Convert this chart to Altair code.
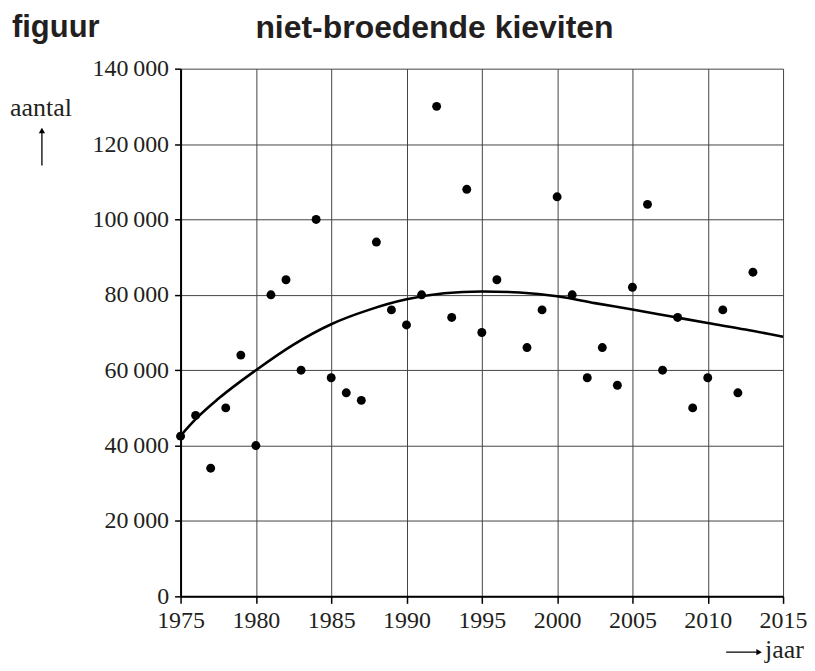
import altair as alt
import pandas as pd

# Observed counts of non-breeding lapwings
years = [1975, 1976, 1977, 1978, 1979, 1980, 1981, 1982, 1983, 1984, 1985, 1986, 1987,
         1988, 1989, 1990, 1991, 1992, 1993, 1994, 1995, 1996, 1998, 1999, 2000, 2001,
         2002, 2003, 2004, 2005, 2006, 2007, 2008, 2009, 2010, 2011, 2012, 2013]
counts = [42500, 48000, 34000, 50000, 64000, 40000, 80000, 84000, 60000, 100000, 58000,
          54000, 52000, 94000, 76000, 72000, 80000, 130000, 74000, 108000, 70000, 84000,
          66000, 76000, 106000, 80000, 58000, 66000, 56000, 82000, 104000, 60000, 74000,
          50000, 58000, 76000, 54000, 86000]

# Trend curve
curve_years = [1975, 1976, 1977.5, 1980, 1982.5, 1985, 1987.5, 1990, 1992.5, 1995,
               1997.5, 2000, 2002.5, 2005, 2007.5, 2010, 2012.5, 2015]
curve_vals = [42600, 47000, 52400, 60000, 66800, 72200, 76000, 78800, 80400, 80900,
              80600, 79600, 77800, 76100, 74300, 72500, 70800, 68900]

x_ticks = [1975, 1980, 1985, 1990, 1995, 2000, 2005, 2010, 2015]
y_ticks = [0, 20000, 40000, 60000, 80000, 100000, 120000, 140000]

pts = pd.DataFrame({"jaar": years, "aantal": counts})
crv = pd.DataFrame({"jaar": curve_years, "aantal": curve_vals})

W, H = 604, 529

xs = alt.Scale(domain=[1975, 2015], nice=False, zero=False)
ys = alt.Scale(domain=[0, 140000], nice=False)

x_axis = alt.Axis(values=x_ticks, format="d", title=None, grid=True,
                  labelPadding=5, tickSize=7, labelFlush=False, labelOverlap=False)
y_axis = alt.Axis(values=y_ticks, title=None, grid=True, tickSize=6, labelPadding=6,
                  labelFlush=False, labelOverlap=False,
                  labelExpr="replace(format(datum.value, ','), ',', '\u2009')")

points = alt.Chart(pts).mark_circle(size=80, color="black", opacity=1).encode(
    x=alt.X("jaar:Q", scale=xs, axis=x_axis),
    y=alt.Y("aantal:Q", scale=ys, axis=y_axis),
)

line = alt.Chart(crv).mark_line(color="black", strokeWidth=2.6, interpolate="monotone").encode(
    x=alt.X("jaar:Q", scale=xs),
    y=alt.Y("aantal:Q", scale=ys),
)

serif = "Liberation Serif"
sans = "Liberation Sans"

def label(txt, x, y, font, size, weight="normal", align="left"):
    return alt.Chart(pd.DataFrame({"t": [txt]})).mark_text(
        font=font, fontSize=size, fontWeight=weight, align=align, baseline="alphabetic",
        color="#231f20"
    ).encode(text="t:N", x=alt.value(x), y=alt.value(y))

t1 = label("figuur", -169, -32, sans, 31, "bold")
t2 = label("niet-broedende kieviten", 75, -31, sans, 32, "bold")
ylab = label("aantal", -171, 47, serif, 26)
xlab = label("jaar", 586, 591, serif, 26)

yshaft = alt.Chart(pd.DataFrame({"a": [0]})).mark_rule(color="black", strokeWidth=1.3).encode(
    x=alt.value(-139), y=alt.value(62), y2=alt.value(97))
yhead = alt.Chart(pd.DataFrame({"a": [0]})).mark_point(
    shape="triangle-up", filled=True, size=40, color="black", opacity=1).encode(
    x=alt.value(-139), y=alt.value(62))
xshaft = alt.Chart(pd.DataFrame({"a": [0]})).mark_rule(color="black", strokeWidth=1.3).encode(
    x=alt.value(547), x2=alt.value(580), y=alt.value(585))
xhead = alt.Chart(pd.DataFrame({"a": [0]})).mark_point(
    shape="triangle-right", filled=True, size=40, color="black", opacity=1).encode(
    x=alt.value(580), y=alt.value(585))

chart = alt.layer(points, line, t1, t2, ylab, xlab, yshaft, yhead, xshaft, xhead).properties(
    width=W, height=H,
    autosize=alt.AutoSizeParams(type="none"),
    padding={"left": 173, "top": 60, "right": 24, "bottom": 66},
).configure_view(strokeWidth=0).configure_axis(
    labelFont=serif, labelFontSize=24, labelColor="#231f20",
    domainColor="black", domainWidth=2, tickColor="black", tickWidth=1.5,
    gridColor="#444444", gridWidth=1, gridOpacity=1,
)

chart.save("out.html", embed_options={"renderer": "svg", "actions": False})
